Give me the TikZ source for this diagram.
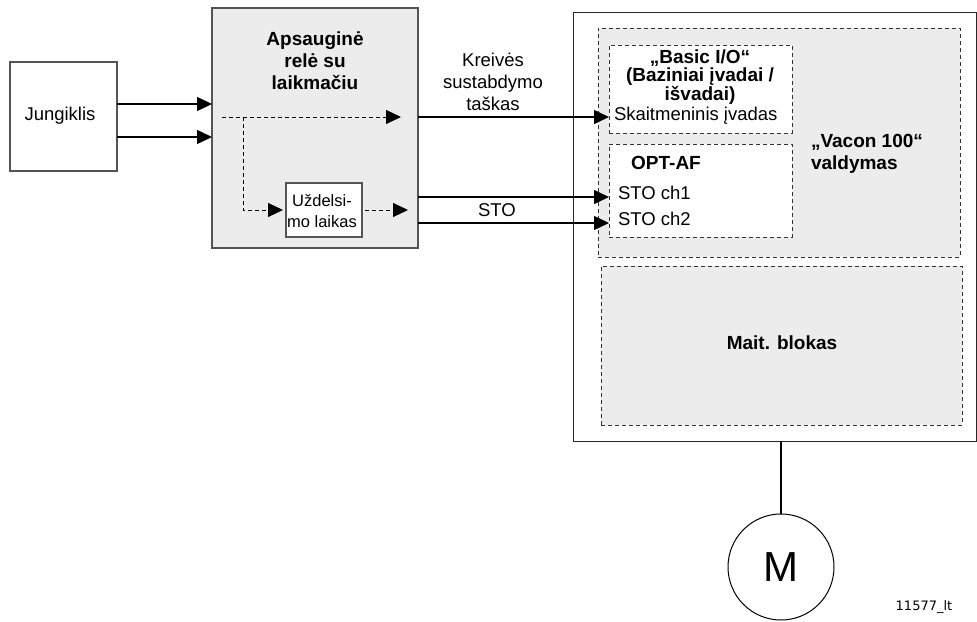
\documentclass[tikz,border=0pt]{standalone}
\usepackage{fontspec}
\setmainfont{Liberation Sans}
\newfontfamily\idfont{DejaVu Sans}
\usetikzlibrary{arrows.meta}
\definecolor{boxgray}{HTML}{ECECEC}
\definecolor{edgegray}{HTML}{555555}
\tikzset{
  every node/.style={inner sep=0pt, outer sep=0pt},
  txt/.style={font=\fontsize{18.5}{22}\selectfont},
  btxt/.style={font=\bfseries\fontsize{19}{22}\selectfont},
  solidbox/.style={draw=edgegray, line width=1.1pt},
  dashbox/.style={draw=black!80, line width=0.9pt, dash pattern=on 4pt off 3pt},
  conn/.style={line width=1.4pt, -{Triangle[length=15pt,width=14pt]}},
  dconn/.style={line width=1pt, dash pattern=on 4pt off 3pt, -{Triangle[length=15pt,width=14pt]}},
}
\begin{document}
\begin{tikzpicture}[x=1pt,y=-1pt]
\useasboundingbox (0,0) rectangle (977,621);
% boxes
\node[solidbox, fill=white, minimum width=107pt, minimum height=109pt] (jung) at (63.5,116.5) {};
\node[txt] at (60,116) {Jungiklis};
\node[solidbox, fill=boxgray, minimum width=206pt, minimum height=240pt] (relay) at (315,128) {};
\node[btxt, align=center] (relayt) at (315,61) {Apsauginė\\relė su\\laikmačiu};
\node[solidbox, fill=white, minimum width=76pt, minimum height=54pt] (delay) at (324,210) {};
\node[font=\fontsize{16.5}{21}\selectfont, align=center] at (322,211) {Uždelsi-\\mo laikas};
\node[draw=black!85, line width=1pt, fill=white, minimum width=403pt, minimum height=429pt] (vacon) at (774.5,226.5) {};
\node[dashbox, fill=boxgray, minimum width=362pt, minimum height=229pt] (ctrl) at (779,142.5) {};
\node[dashbox, fill=white, minimum width=183pt, minimum height=88pt] (basic) at (700.5,89) {};
\node[dashbox, fill=white, minimum width=183pt, minimum height=93pt] (opt) at (700.5,190.5) {};
\node[dashbox, fill=boxgray, minimum width=361pt, minimum height=159pt] (power) at (781.5,345.5) {};
% texts
\node[font=\bfseries\fontsize{19}{16.5}\selectfont, align=center] at (700,77) {„Basic I/O“\\(Baziniai įvadai /\\išvadai)};
\node[txt, anchor=west] at (614,116) {Skaitmeninis įvadas};
\node[btxt] at (666,163) {OPT-AF};
\node[txt, anchor=west] at (618,193) {STO ch1};
\node[txt, anchor=west] at (618,219) {STO ch2};
\node[btxt, anchor=west, align=left] at (811,154) {„Vacon 100“\\valdymas};
\node[btxt] at (782,343) {Mait. blokas};
\node[txt, align=center] at (493,82) {Kreivės\\sustabdymo\\taškas};
\node[txt] at (497,210) {STO};
% motor
\node[draw=black, line width=1pt, circle, minimum size=106pt, font=\fontsize{42}{42}\selectfont] (motor) at (781,567) {M};
\node[font=\idfont\fontsize{13}{13}\selectfont] at (924,607) {11577\_lt};
% port coordinates
\coordinate (j1) at (117,104);
\coordinate (j2) at (117,137);
\coordinate (r1) at (212,104);
\coordinate (r2) at (212,137);
\coordinate (ds) at (222,117);
\coordinate (db) at (243,117);
\coordinate (de) at (401,117);
\coordinate (dd) at (243,210);
\coordinate (di) at (283,210);
\coordinate (do) at (365,210);
\coordinate (dt) at (408,210);
\coordinate (o1) at (418,117);
\coordinate (o2) at (418,197);
\coordinate (o3) at (418,223);
\coordinate (i1) at (609,117);
\coordinate (i2) at (609,197);
\coordinate (i3) at (609,223);
% connectors
\draw[conn] (j1) -- (r1);
\draw[conn] (j2) -- (r2);
\draw[dconn] (ds) -- (de);
\draw[dconn] (db) -- (dd) -- (di);
\draw[dconn] (do) -- (dt);
\draw[conn] (o1) -- (i1);
\draw[conn] (o2) -- (i2);
\draw[conn] (o3) -- (i3);
\draw[line width=2pt] (vacon.south -| motor.north) -- (motor.north);
\end{tikzpicture}
\end{document}
